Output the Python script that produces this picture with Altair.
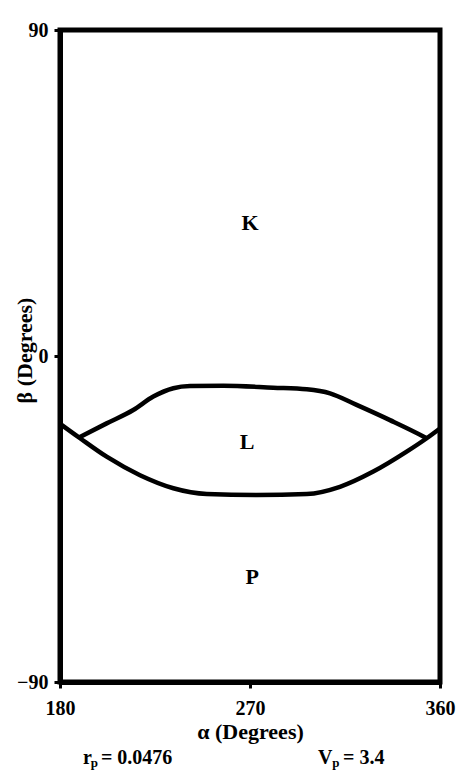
import altair as alt
import pandas as pd

# Boundary between regions K and L (upper curve)
upper_alpha = [189.0, 202.1, 214.7, 224.2, 233.7, 241.6, 257.4, 281.0, 296.9, 307.9, 320.5, 336.3, 352.1, 353.7]
upper_beta = [-22.5, -18.6, -14.9, -11.2, -8.9, -8.3, -8.2, -8.75, -9.2, -10.3, -13.5, -17.7, -22.2, -22.7]

# Boundary between regions L and P (lower curve)
lower_alpha = [180.0, 189.5, 202.1, 217.9, 233.7, 249.5, 273.2, 296.9, 312.6, 328.4, 344.2, 353.7, 360.0]
lower_beta = [-18.7, -22.7, -27.8, -32.9, -36.5, -38.1, -38.4, -38.1, -36.1, -31.9, -26.4, -22.7, -20.0]

# Region labels
region_names = ["K", "L", "P"]
region_alpha = [270.0, 268.6, 271.0]
region_beta = [36.7, -23.7, -61.0]

# Parameter notes under the axis: main text pieces and their subscripts
note_text = ["r", "= 0.0476", "V", "= 3.4"]
note_alpha = [190.9, 199.4, 302.2, 314.1]
note_beta = [-111.0, -111.0, -111.0, -111.0]
sub_text = ["p", "p"]
sub_alpha = [194.6, 309.0]
sub_beta = [-112.4, -112.4]

x_ticks = [180, 270, 360]
y_ticks = [-90, 0, 90]

FONT = "Liberation Serif"

curves = pd.concat([
    pd.DataFrame({"alpha": upper_alpha, "beta": upper_beta, "curve": "KL",
                  "idx": range(len(upper_alpha))}),
    pd.DataFrame({"alpha": lower_alpha, "beta": lower_beta, "curve": "LP",
                  "idx": range(len(lower_alpha))}),
])
regions = pd.DataFrame({"name": region_names, "alpha": region_alpha, "beta": region_beta})
notes = pd.DataFrame({"text": note_text, "alpha": note_alpha, "beta": note_beta})
subs = pd.DataFrame({"text": sub_text, "alpha": sub_alpha, "beta": sub_beta})

x_scale = alt.Scale(domain=[180, 360], nice=False, zero=False)
y_scale = alt.Scale(domain=[-90, 90], nice=False, zero=False)

x_enc = alt.X("alpha:Q", scale=x_scale, title="\u03b1 (Degrees)",
              axis=alt.Axis(values=x_ticks, grid=False, tickSize=6, tickWidth=3,
                            tickColor="black", domainColor="black", domainWidth=5,
                            labelFont=FONT, labelFontSize=20, labelFontWeight="bold",
                            labelColor="black", labelPadding=10, labelFlush=False,
                            titleFont=FONT, titleFontSize=22, titleFontWeight="bold",
                            titleColor="black", titlePadding=3))
y_enc = alt.Y("beta:Q", scale=y_scale, title="\u03b2 (Degrees)",
              axis=alt.Axis(values=y_ticks, grid=False, tickSize=6, tickWidth=3,
                            tickColor="black", domainColor="black", domainWidth=5,
                            labelFont=FONT, labelFontSize=20, labelFontWeight="bold",
                            labelColor="black", labelPadding=6, labelFlush=False,
                            titleFont=FONT, titleFontSize=22, titleFontWeight="bold",
                            titleColor="black", titleAngle=-90, titleX=-36, titleY=320,
                            titleBaseline="middle", titleAlign="center"))

lines = alt.Chart(curves).mark_line(color="black", strokeWidth=4.5, interpolate="monotone").encode(
    x=x_enc, y=y_enc, detail="curve:N", order="idx:Q")

labels = alt.Chart(regions).mark_text(font=FONT, fontSize=22, fontWeight="bold", color="black").encode(
    x=alt.X("alpha:Q", scale=x_scale), y=alt.Y("beta:Q", scale=y_scale), text="name:N")

note_marks = alt.Chart(notes).mark_text(font=FONT, fontSize=20, fontWeight="bold", color="black",
                                        align="left").encode(
    x=alt.X("alpha:Q", scale=x_scale), y=alt.Y("beta:Q", scale=y_scale), text="text:N")

sub_marks = alt.Chart(subs).mark_text(font=FONT, fontSize=13, fontWeight="bold", color="black",
                                      align="left").encode(
    x=alt.X("alpha:Q", scale=x_scale), y=alt.Y("beta:Q", scale=y_scale), text="text:N")

chart = alt.layer(lines, labels, note_marks, sub_marks).properties(
    width=380, height=652,
    autosize=alt.AutoSizeParams(type="none"),
    padding={"left": 60, "top": 30, "right": 22, "bottom": 93},
    background="white",
).configure_view(stroke="black", strokeWidth=5)

chart.save("out.html", embed_options={"renderer": "svg", "actions": False})
